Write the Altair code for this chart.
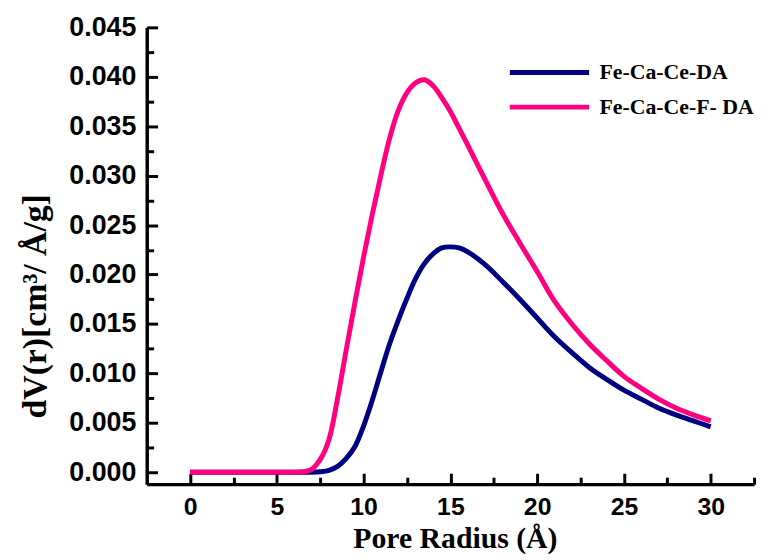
import altair as alt
import pandas as pd

# Pore radius grid (Å)
radius = [0, 1, 2, 3, 4, 5, 6,
          6.5, 7, 7.5, 8, 8.5, 9, 9.5, 10, 10.5, 11, 11.5, 12, 12.5, 13,
          13.5, 14, 14.5, 15, 15.5, 16,
          17, 18, 19, 20, 21, 22, 23, 24, 25, 26, 27, 28, 29, 30]

# Fe-Ca-Ce-DA (navy)
dv_da = [0, 0, 0, 0, 0, 0, 0,
         0, 0, 0.00005, 0.0002, 0.0006, 0.0014, 0.0026, 0.0047, 0.0073, 0.0102, 0.0130, 0.0154, 0.0176, 0.0196,
         0.0211, 0.0221, 0.0227, 0.0228, 0.0227, 0.0223,
         0.0210, 0.0193, 0.0175, 0.0156, 0.0137, 0.0121, 0.0106, 0.0094, 0.0083, 0.0074, 0.0065, 0.0058, 0.0052, 0.0046]

# Fe-Ca-Ce-F- DA (pink)
dv_fda = [0, 0, 0, 0, 0, 0, 0,
          0.00005, 0.0003, 0.0013, 0.0033, 0.0075, 0.0124, 0.0172, 0.0218, 0.0261, 0.0301, 0.0338, 0.0366, 0.0384, 0.0394,
          0.0397, 0.0391, 0.0379, 0.0365, 0.0348, 0.0331,
          0.0296, 0.0262, 0.0232, 0.0203, 0.0173, 0.0150, 0.0130, 0.0113, 0.0097, 0.0085, 0.0074, 0.0065, 0.0058, 0.0052]

series_names = ["Fe-Ca-Ce-DA", "Fe-Ca-Ce-F- DA"]
series_colors = ["#000080", "#FF0080"]

x_ticks = [0, 2.5, 5, 7.5, 10, 12.5, 15, 17.5, 20, 22.5, 25, 27.5, 30, 32.5]
y_ticks = [0, 0.0025, 0.005, 0.0075, 0.01, 0.0125, 0.015, 0.0175, 0.02, 0.0225,
           0.025, 0.0275, 0.03, 0.0325, 0.035, 0.0375, 0.04, 0.0425, 0.045]

df = pd.DataFrame({
    "r": radius + radius,
    "v": dv_da + dv_fda,
    "s": [series_names[0]] * len(radius) + [series_names[1]] * len(radius),
})

common_axis = dict(
    grid=False,
    domainColor="black",
    domainWidth=3.5,
    tickColor="black",
    tickWidth=3,
    labelFont="Liberation Sans",
    labelFontWeight="bold",
    labelColor="black",
    labelOverlap=False,
    labelFlush=False,
    labelBound=False,
    titleFont="Liberation Serif",
    titleFontWeight="bold",
    titleColor="black",
)

x_axis = alt.Axis(
    values=x_ticks,
    labelExpr="datum.value % 5 === 0 ? datum.label : ''",
    tickSize={"condition": {"test": "datum.value % 5 === 0", "value": -11}, "value": -7},
    labelFontSize=25,
    labelBaseline="alphabetic",
    labelPadding=42,
    title="Pore Radius (Å)",
    titleFontSize=30,
    titleX=311,
    titleY=64,
    titleBaseline="alphabetic",
    titleAlign="center",
    **common_axis,
)

y_axis = alt.Axis(
    values=y_ticks,
    format=".3f",
    labelExpr="round(datum.value * 10000) % 50 === 0 ? datum.label : ''",
    tickSize={"condition": {"test": "round(datum.value * 10000) % 50 === 0", "value": -11}, "value": -7},
    labelFontSize=27,
    labelPadding=22,
    labelBaseline="middle",
    title="dV(r)[cm³/ Å/g]",
    titleFontSize=34,
    titleX=-112,
    titleY=281,
    titleAngle=270,
    titleBaseline="middle",
    titleAlign="center",
    **common_axis,
)

chart = alt.Chart(df).mark_line(strokeWidth=5, interpolate="catmull-rom").encode(
    x=alt.X("r:Q", scale=alt.Scale(domain=[-2.5, 32.5], nice=False, zero=False), axis=x_axis),
    y=alt.Y("v:Q", scale=alt.Scale(domain=[-0.0012, 0.045], nice=False, zero=False), axis=y_axis),
    color=alt.Color(
        "s:N",
        scale=alt.Scale(domain=series_names, range=series_colors),
        legend=alt.Legend(
            title=None,
            orient="none",
            legendX=394,
            legendY=33,
            symbolType="M-4,0H4",
            symbolSize=400,
            symbolStrokeWidth=5,
            labelFont="Liberation Serif",
            labelFontWeight="bold",
            labelFontSize=22,
            labelColor="black",
            labelOffset=38,
            labelLimit=400,
            rowPadding=11,
            padding=0,
        ),
    ),
).properties(
    width=613,
    height=461,
    autosize=alt.AutoSizeParams(type="none"),
    padding={"left": 140, "top": 17, "right": 8, "bottom": 72},
    background="white",
).configure_view(stroke=None)

chart.save("out.html", embed_options={"renderer": "svg", "actions": False})
